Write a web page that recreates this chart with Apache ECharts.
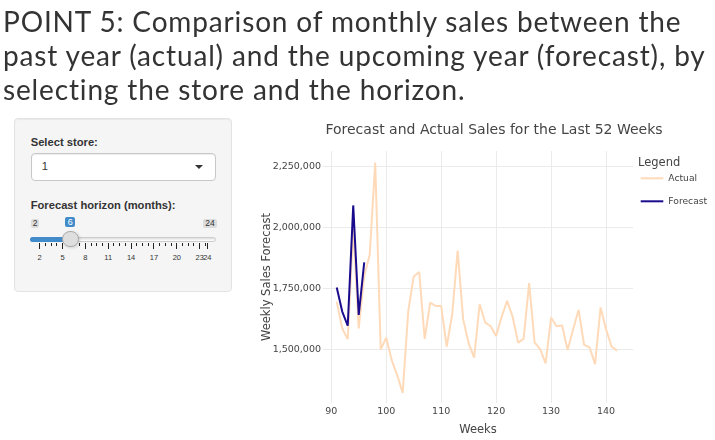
<!DOCTYPE html>
<html>
<head>
<meta charset="utf-8">
<script src="https://cdn.jsdelivr.net/npm/echarts@6/dist/echarts.min.js"></script>
<style>
html,body{margin:0;padding:0;background:#fff;width:715px;height:440px;overflow:hidden;}
#chart{position:absolute;left:0;top:0;width:715px;height:440px;}
#heading{position:absolute;left:3px;top:4px;font-family:Lato,'Open Sans',sans-serif;font-size:28px;letter-spacing:0.85px;line-height:34.2px;color:#333;white-space:nowrap;z-index:2;}
#panel{position:absolute;left:14px;top:118px;width:218px;height:174px;box-sizing:border-box;background:#f5f5f5;border:1px solid #e3e3e3;border-radius:4px;box-shadow:inset 0 1px 1px rgba(0,0,0,.05);z-index:2;font-family:'Liberation Sans',Arial,sans-serif;color:#333;}
.lbl{position:absolute;left:15.7px;font-weight:bold;font-size:11.2px;line-height:14px;white-space:nowrap;}
#sel{position:absolute;left:15.7px;top:34.3px;width:185px;height:27.4px;box-sizing:border-box;background:#fff;border:1px solid #c8c8c8;border-radius:4px;box-shadow:inset 0 1px 1px rgba(0,0,0,.075);}
#selText{position:absolute;left:10px;top:0;line-height:25.4px;font-size:11.2px;color:#333;}
#caret{position:absolute;left:163px;top:10.5px;width:0;height:0;border-left:4px solid transparent;border-right:4px solid transparent;border-top:4px solid #333;}
.bub{position:absolute;font-size:8.5px;line-height:9px;padding:0 2px;border-radius:2px;white-space:nowrap;}
.bub.mm{background:rgba(0,0,0,0.1);color:#333;}
.bub.cur{background:#428bca;color:#fff;font-size:9px;line-height:10px;padding:0 2.5px;transform:translateX(-50%);}
#track{position:absolute;top:117.7px;height:5.6px;box-sizing:border-box;border:1px solid #cccccc;border-radius:8px;background:linear-gradient(to bottom,#dedede,#ffffff);}
#fill{position:absolute;top:117.7px;height:5.6px;background:#428bca;border-radius:8px 0 0 8px;}
#handle{position:absolute;width:16.7px;height:16.7px;box-sizing:border-box;border-radius:50%;background:#dedede;border:1px solid #ababab;box-shadow:1px 1px 3px rgba(0,0,0,.15);}
.tk{position:absolute;width:1px;background:#222;}
.tl{position:absolute;font-size:7.5px;line-height:9px;color:#333;transform:translateX(-50%);white-space:nowrap;}
</style>
</head>
<body>
<div id="chart"></div>
<div id="heading">POINT 5: Comparison of monthly sales between the<br>past year (actual) and the upcoming year (forecast), by<br>selecting the store and the horizon.</div>
<div id="panel">
  <div class="lbl" style="top:15.7px">Select store:</div>
  <div id="sel"><div id="selText"></div><div id="caret"></div></div>
  <div class="lbl" style="top:79px">Forecast horizon (months):</div>
  <div id="slider"></div>
</div>
<script>
// ---- data ----
const weeks = [91,92,93,94,95,96,97,98,99,100,101,102,103,104,105,106,107,108,109,110,111,112,113,114,115,116,117,118,119,120,121,122,123,124,125,126,127,128,129,130,131,132,133,134,135,136,137,138,139,140,141,142];
const actualSales = [1695000,1585000,1541000,1993000,1585000,1800000,1887000,2265000,1499000,1547000,1455000,1393000,1321000,1654000,1798000,1816000,1542000,1691000,1677000,1677000,1510000,1642000,1904000,1622000,1524000,1465000,1684000,1610000,1594000,1554000,1633000,1698000,1633000,1527000,1542000,1771000,1528000,1500000,1442000,1629000,1594000,1597000,1497000,1581000,1661000,1518000,1507000,1439000,1671000,1581000,1511000,1494000];
const forecastWeeks = [91,92,93,94,95,96];
const forecastSales = [1753000,1654000,1596000,2089000,1640000,1856000];
const weekTicks = [90,100,110,120,130,140];
const salesTicks = [1500000,1750000,2000000,2250000];
const storeOptions = ['1'];
const sliderTicks = [2,5,8,11,14,17,20,23,24];
const sliderMin = 2, sliderMax = 24, sliderValue = 6;

// ---- sidebar widgets ----
document.getElementById('selText').textContent = storeOptions[0];
(function buildSlider(){
  const s = document.getElementById('slider');
  const ox = 15, oy = 119;           // panel content origin (absolute)
  const x0 = 39.7, x1 = 207.3;       // absolute px of slider min/max
  const trackL = 29.7 - ox, trackR = 216.3 - ox;
  const px = v => x0 + (v - sliderMin) / (sliderMax - sliderMin) * (x1 - x0) - ox;
  let html = '';
  html += '<div id="track" style="left:' + trackL + 'px;width:' + (trackR - trackL) + 'px"></div>';
  html += '<div id="fill" style="left:' + trackL + 'px;width:' + (px(sliderValue) - trackL) + 'px"></div>';
  html += '<div class="bub mm" style="left:' + (30.7-ox) + 'px;top:' + (219-oy) + 'px">' + sliderMin + '</div>';
  html += '<div class="bub mm" style="left:' + (203.2-ox) + 'px;top:' + (219-oy) + 'px;">' + sliderMax + '</div>';
  html += '<div class="bub cur" style="left:' + px(sliderValue) + 'px;top:' + (217.3-oy) + 'px">' + sliderValue + '</div>';
  const minorStep = (sliderTicks[1] - sliderTicks[0]) / 4;
  for (let i = 0; i < sliderTicks.length; i++) {
    const v = sliderTicks[i];
    html += '<div class="tk" style="left:' + (px(v)-0.5) + 'px;top:' + (243.3-oy) + 'px;height:5.7px"></div>';
    html += '<div class="tl" style="left:' + px(v) + 'px;top:' + (257.3-4.5-oy) + 'px">' + v + '</div>';
    if (i < sliderTicks.length - 1) {
      for (let m = v + minorStep; m < sliderTicks[i+1] - 0.01; m += minorStep) {
        html += '<div class="tk" style="left:' + (px(m)-0.5) + 'px;top:' + (243.3-oy) + 'px;height:2.7px"></div>';
      }
    }
  }
  html += '<div id="handle" style="left:' + (px(sliderValue)-8.35) + 'px;top:' + (239-8.35-oy) + 'px"></div>';
  s.innerHTML = html;
})();

// ---- chart ----
const chart = echarts.init(document.getElementById('chart'), null, {renderer:'canvas'});
const FONT = 'DejaVu Sans';
chart.setOption({
  animation: false,
  backgroundColor: 'transparent',
  title: {
    text: 'Forecast and Actual Sales for the Last 52 Weeks',
    left: 494, top: 123, textAlign: 'center', padding: 0,
    textStyle: {fontFamily: FONT, fontSize: 14, fontWeight: 'normal', color: '#444'}
  },
  graphic: [{
    type: 'text', left: 638, top: 157,
    style: {text: 'Legend', fontFamily: FONT, fontSize: 11.5, fill: '#444'}
  }],
  legend: {
    orient: 'vertical', left: 640.7, top: 172.3, padding: 0,
    itemWidth: 22.6, itemHeight: 2, itemGap: 11, icon: 'rect',
    textStyle: {fontFamily: FONT, fontSize: 9.2, color: '#444', lineHeight: 12},
    data: ['Actual', 'Forecast']
  },
  grid: {left: 323, right: 82, top: 151, bottom: 37, outerBoundsMode: 'none', containLabel: false},
  xAxis: {
    type: 'value', min: 88.5, max: 144.9,
    name: 'Weeks', nameLocation: 'middle', nameGap: 21, nameMoveOverlap: false,
    nameTextStyle: {fontFamily: FONT, fontSize: 11.5, color: '#444'},
    axisLine: {show: false},
    axisTick: {show: false, customValues: weekTicks},
    axisLabel: {customValues: weekTicks, fontFamily: FONT, fontSize: 9.5, color: '#444', margin: 4},
    splitLine: {show: true, lineStyle: {color: '#ebebeb', width: 1}}
  },
  yAxis: {
    type: 'value', min: 1279450, max: 2312000,
    name: 'Weekly Sales Forecast', nameLocation: 'middle', nameGap: 50, nameMoveOverlap: false,
    nameTextStyle: {fontFamily: FONT, fontSize: 11.5, color: '#444'},
    axisLine: {show: false},
    axisTick: {show: false, customValues: salesTicks},
    axisLabel: {customValues: salesTicks, fontFamily: FONT, fontSize: 9.5, color: '#444', margin: 2,
      formatter: v => Math.round(v).toLocaleString('en-US')},
    splitLine: {show: true, lineStyle: {color: '#ebebeb', width: 1}}
  },
  series: [
    {
      name: 'Actual', type: 'line', symbol: 'none', silent: true,
      data: weeks.map((w, i) => [w, actualSales[i]]),
      lineStyle: {color: '#ffdab9', width: 2},
      itemStyle: {color: '#ffdab9'}
    },
    {
      name: 'Forecast', type: 'line', symbol: 'none', silent: true,
      data: forecastWeeks.map((w, i) => [w, forecastSales[i]]),
      lineStyle: {color: '#1a0b8c', width: 2},
      itemStyle: {color: '#1a0b8c'}
    }
  ]
});
</script>
</body>
</html>
